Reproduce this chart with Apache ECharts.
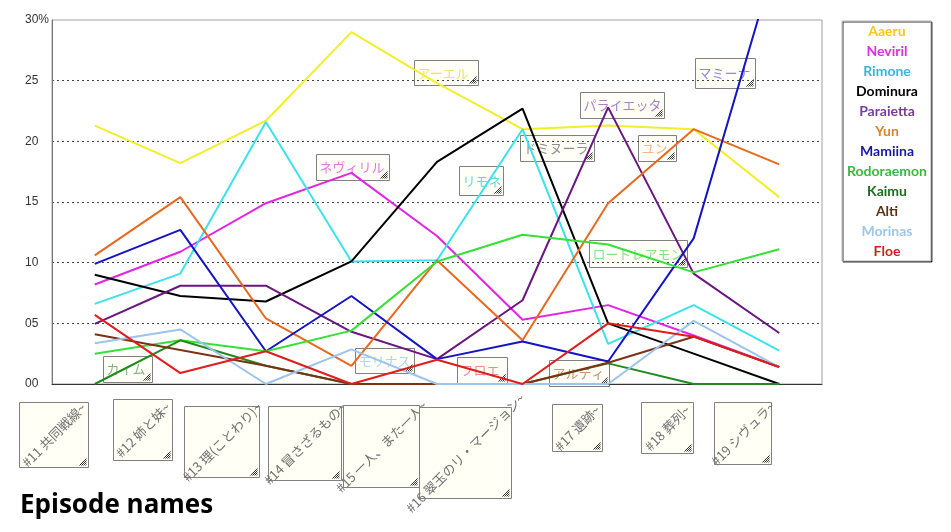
<!DOCTYPE html>
<html>
<head>
<meta charset="utf-8">
<script src="https://cdn.jsdelivr.net/npm/echarts@6/dist/echarts.min.js"></script>
<style>
  html, body { margin: 0; padding: 0; background: #fff; }
  #chart { width: 951px; height: 532px; }
</style>
</head>
<body>
<div id="chart"></div>
<script>
// episodes (x categories)
const episodes = ['#11 共同戦線~', '#12 姉と妹~', '#13 理(ことわり)~', '#14 冒さざるもの~',
  '#15 一人、また一人~', '#16 翠玉のリ・マージョン~', '#17 遺跡~', '#18 葬列~', '#19 シヴュラ~'];

// character names (legend) and their japanese labels
const names = ['Aaeru', 'Neviril', 'Rimone', 'Dominura', 'Paraietta', 'Yun',
  'Mamiina', 'Rodoraemon', 'Kaimu', 'Alti', 'Morinas', 'Floe'];
const namesJp = ['アーエル', 'ネヴィリル', 'リモネ', 'ドミヌーラ', 'パライエッタ', 'ユン',
  'マミーナ', 'ロードレアモン', 'カイム', 'アルティ', 'モリナス', 'フロエ'];

// vote share per episode (%)
const aaeru      = [21.3, 18.2, 21.7, 29.0, 24.8, 21.0, 21.3, 21.0, 15.4];
const neviril    = [8.2, 10.9, 14.9, 17.4, 12.2, 5.3, 6.5, 4.0, 1.4];
const rimone     = [6.6, 9.1, 21.6, 10.1, 10.2, 21.0, 3.3, 6.5, 2.75];
const dominura   = [9.0, 7.25, 6.8, 10.1, 18.3, 22.7, 5.0, 2.5, 0];
const paraietta  = [4.95, 8.1, 8.1, 4.3, 2.05, 6.9, 22.8, 9.1, 4.2];
const yun        = [10.6, 15.4, 5.4, 1.5, 10.2, 3.6, 14.9, 21.0, 18.1];
const mamiina    = [9.9, 12.7, 2.7, 7.25, 2.05, 3.5, 1.85, 12.0, 36.0];
const rodoraemon = [2.5, 3.6, 2.7, 4.4, 10.1, 12.3, 11.5, 9.2, 11.1];
const kaimu      = [0, 3.6, 1.5, 0, 0, 0, 1.7, 0, 0];
const alti       = [4.1, 2.8, 1.5, 0, 0, 0, 1.75, 3.9, 1.4];
const morinas    = [3.35, 4.5, 0, 2.85, 0, 0, 0, 5.2, 1.4];
const floe       = [5.7, 0.9, 2.7, 0, 2.0, 0, 5.0, 3.9, 1.4];

const values = [aaeru, neviril, rimone, dominura, paraietta, yun,
  mamiina, rodoraemon, kaimu, alti, morinas, floe];

const lineColors = ['#f2ee2a', '#e424e4', '#3ce2ea', '#000000', '#6a1680', '#e8681e',
  '#1414c4', '#36e036', '#208a20', '#7a3414', '#9cc4ec', '#e01c1c'];
const legendColors = ['#f4c81c', '#e02ee0', '#38b6da', '#000000', '#7a3c9c', '#d4862e',
  '#1818a8', '#3cb83c', '#1e6c1e', '#5c3012', '#9ec6e6', '#d01e1e'];
const labelColors = ['#ece468', '#e476e4', '#66d8e2', '#909090', '#ae80c2', '#f0b890',
  '#8a8ae2', '#86e486', '#84b484', '#c49474', '#aed6ee', '#f08a8a'];

// text box layout [x, y, w, h] for the character labels
const labelBoxes = [
  [414, 60, 64, 25], [316, 154, 73, 26], [459, 166, 44, 29], [520, 135, 74, 26],
  [580, 92, 84, 26], [638, 135, 38, 26], [695, 58, 60, 30], [589, 240, 98, 27],
  [103, 356, 49, 26], [549, 360, 60, 26], [355, 348, 59, 25], [457, 357, 50, 26]
];
// text box layout for the episode names
const episodeBoxes = [
  [19, 402, 69, 65], [113, 399, 59, 61], [184, 406, 75, 71], [268, 406, 73, 74],
  [343, 405, 76, 82], [419, 407, 92, 91], [552, 404, 50, 47], [641, 402, 52, 51],
  [714, 402, 57, 62]
];

const hatch = (w, h) => {
  const out = [];
  for (let k = 0; k < 4; k++) {
    out.push({
      type: 'line',
      shape: { x1: w - 9 + 2 * k, y1: h - 2, x2: w - 2, y2: h - 9 + 2 * k },
      style: { stroke: '#333', lineWidth: 1 }
    });
  }
  return out;
};

const graphics = [];
labelBoxes.forEach((b, i) => {
  graphics.push({
    type: 'group', x: b[0] + 0.5, y: b[1] + 0.5, z: 100,
    children: [
      { type: 'rect', shape: { x: 0, y: 0, width: b[2], height: b[3] },
        style: { fill: 'rgba(255,255,242,0.55)', stroke: '#808080', lineWidth: 1 } },
      { type: 'text', x: 3, y: b[3] / 2,
        style: { text: namesJp[i], fill: labelColors[i], fontSize: 13,
          fontFamily: 'Noto Sans CJK JP', verticalAlign: 'middle', align: 'left' } }
    ].concat(hatch(b[2], b[3]))
  });
});
episodeBoxes.forEach((b, i) => {
  graphics.push({
    type: 'group', x: b[0] + 0.5, y: b[1] + 0.5, z: 100,
    children: [
      { type: 'rect', shape: { x: 0, y: 0, width: b[2], height: b[3] },
        style: { fill: '#fffff6', stroke: '#808080', lineWidth: 1 } },
      { type: 'text', x: b[2] / 2, y: b[3] / 2, rotation: Math.PI / 4,
        style: { text: episodes[i], fill: '#707070', fontSize: 13,
          fontFamily: 'Noto Sans CJK JP', verticalAlign: 'middle', align: 'center' } }
    ].concat(hatch(b[2], b[3]))
  });
});
graphics.push({
  type: 'text', left: 20, top: 493,
  style: { text: 'Episode names', fill: '#000', fontSize: 26, fontWeight: 'bold', fontFamily: 'Open Sans' }
});

const chart = echarts.init(document.getElementById('chart'));
chart.setOption({
  animation: false,
  grid: { left: 52, right: 129, top: 20, bottom: 148, show: true, borderColor: '#a0a0a0', borderWidth: 1 },
  legend: {
    orient: 'vertical', left: 842, top: 21,
    padding: [3, 4, 3, 3], itemGap: 6, itemWidth: 0, itemHeight: 0,
    selectedMode: false,
    backgroundColor: '#fff', borderColor: '#b0b0b0', borderWidth: 1,
    shadowColor: 'rgba(0,0,0,0.8)', shadowOffsetX: 1, shadowOffsetY: 1, shadowBlur: 0,
    data: names.map((n, i) => ({ name: n, textStyle: { color: legendColors[i] } })),
    formatter: n => '{a|' + n + '}',
    textStyle: {
      rich: { a: { width: 72, align: 'center', fontSize: 14, fontWeight: 'bold', fontFamily: 'Lato' } }
    }
  },
  xAxis: {
    type: 'category', data: episodes, boundaryGap: true,
    axisLine: { lineStyle: { color: '#333', width: 1 } },
    axisTick: { inside: true, length: 4, lineStyle: { color: '#333' } },
    axisLabel: { show: false }
  },
  yAxis: {
    type: 'value', min: 0, max: 30, interval: 5,
    axisLine: { show: true, lineStyle: { color: '#777' } },
    axisTick: { show: false },
    axisLabel: {
      align: 'left', margin: 27, color: '#333', fontSize: 12, fontFamily: 'Liberation Sans',
      formatter: v => v === 30 ? '30%' : String(v).padStart(2, '0')
    },
    splitLine: { show: true, showMinLine: false, showMaxLine: false,
      lineStyle: { color: '#444', type: [2, 3], width: 1 } }
  },
  series: names.map((n, i) => ({
    name: n, type: 'line', data: values[i], symbol: 'none',
    color: lineColors[i], lineStyle: { width: 2, color: lineColors[i] }
  })),
  graphic: graphics
});
</script>
</body>
</html>
